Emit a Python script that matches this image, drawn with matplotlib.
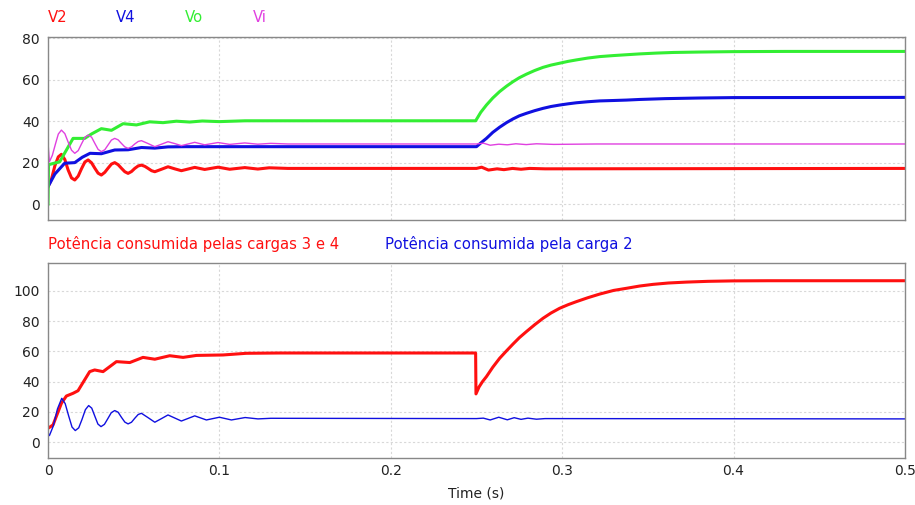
import numpy as np
import matplotlib.pyplot as plt

# ---- top panel: voltages ----
t_v2 = [0, 0.0020, 0.0040, 0.0060, 0.0078, 0.0098, 0.0117, 0.0137, 0.0156, 0.0176,
        0.0195, 0.0215, 0.0234, 0.0254, 0.0273, 0.0292, 0.0311, 0.0331, 0.0350,
        0.0370, 0.0389, 0.0409, 0.0428, 0.0448, 0.0467, 0.0487, 0.0506, 0.0526,
        0.0545, 0.0565, 0.0584, 0.0604, 0.0623, 0.0662, 0.0700, 0.0739, 0.0778,
        0.0817, 0.0856, 0.0914, 0.0992, 0.1060, 0.1148, 0.1224, 0.1290, 0.1400,
        0.2500, 0.2530, 0.2570, 0.2620, 0.2660, 0.2710, 0.2760, 0.2810, 0.2900, 0.5]
v2 = [8.4, 12.0, 18.5, 22.8, 24.0, 21.5, 16.5, 12.6, 11.6, 13.5,
      17.0, 20.3, 21.3, 19.9, 17.3, 14.9, 14.0, 15.3, 17.3,
      19.3, 20.0, 19.0, 17.3, 15.6, 14.8, 15.7, 17.2, 18.4,
      18.8, 18.2, 17.2, 16.1, 15.6, 16.8, 18.0, 17.0, 16.1,
      16.9, 17.7, 16.7, 17.8, 16.8, 17.6, 16.9, 17.5, 17.2,
      17.2, 17.8, 16.4, 17.0, 16.6, 17.2, 16.8, 17.2, 17.0, 17.2]

t_v4 = [0, 0.0040, 0.0097, 0.0156, 0.0200, 0.0245, 0.0311, 0.0389, 0.0467, 0.0545,
        0.0623, 0.0700, 0.0800, 0.2500, 0.2525, 0.2558, 0.2595, 0.2635, 0.2675,
        0.2713, 0.2750, 0.2791, 0.2840, 0.2888, 0.2935, 0.2985, 0.3035, 0.3083,
        0.3150, 0.3219, 0.3300, 0.3375, 0.3452, 0.3600, 0.3800, 0.4000, 0.5]
v4 = [8.4, 14.5, 19.7, 20.0, 22.6, 24.5, 24.3, 26.1, 26.2, 27.3,
      27.0, 27.6, 27.7, 27.7, 29.5, 31.7, 34.6, 37.1, 39.3,
      41.1, 42.6, 43.8, 45.1, 46.2, 47.1, 47.8, 48.4, 48.9,
      49.4, 49.8, 50.0, 50.2, 50.5, 50.9, 51.2, 51.4, 51.5]

t_vo = [0, 0.0003, 0.0068, 0.0146, 0.0214, 0.0253, 0.0311, 0.0370, 0.0438, 0.0516,
        0.0593, 0.0671, 0.0749, 0.0827, 0.0900, 0.1000, 0.1150, 0.2495, 0.2525,
        0.2558, 0.2595, 0.2635, 0.2675, 0.2713, 0.2750, 0.2791, 0.2840, 0.2888,
        0.2935, 0.2985, 0.3035, 0.3083, 0.3150, 0.3219, 0.3300, 0.3375, 0.3452,
        0.3550, 0.3650, 0.3800, 0.4000, 0.4300, 0.5]
vo = [0, 19.0, 20.4, 31.7, 31.7, 33.8, 36.4, 35.6, 38.8, 38.2,
      39.7, 39.3, 40.0, 39.6, 40.1, 39.8, 40.2, 40.2, 44.3,
      47.8, 51.2, 54.3, 56.9, 59.1, 61.0, 62.7, 64.5, 66.0,
      67.1, 68.0, 68.9, 69.6, 70.5, 71.2, 71.7, 72.1, 72.5,
      72.9, 73.2, 73.4, 73.6, 73.7, 73.7]

t_vi = [0, 0.0008, 0.0025, 0.0045, 0.0060, 0.0078, 0.0098, 0.0117, 0.0137, 0.0156,
        0.0176, 0.0195, 0.0215, 0.0234, 0.0254, 0.0273, 0.0292, 0.0311, 0.0331,
        0.0350, 0.0370, 0.0389, 0.0409, 0.0428, 0.0448, 0.0467, 0.0487, 0.0506,
        0.0526, 0.0545, 0.0584, 0.0623, 0.0662, 0.0700, 0.0739, 0.0778, 0.0817,
        0.0856, 0.0914, 0.0992, 0.1060, 0.1148, 0.1224, 0.1300, 0.1400, 0.2500,
        0.2540, 0.2580, 0.2630, 0.2680, 0.2730, 0.2790, 0.2850, 0.2950, 0.3200, 0.5]
vi = [29.3, 20.4, 23.5, 29.5, 33.8, 35.7, 34.0, 30.0, 26.0, 24.5,
      25.8, 29.0, 32.2, 33.3, 32.3, 29.3, 26.4, 25.3, 26.2,
      28.5, 30.9, 31.7, 31.0, 29.3, 27.6, 26.9, 27.6, 29.0,
      30.2, 30.6, 29.2, 27.7, 28.9, 30.1, 29.2, 28.2, 29.0,
      29.8, 28.6, 29.7, 28.8, 29.5, 28.9, 29.3, 29.0, 29.0,
      29.4, 28.4, 28.9, 28.6, 29.1, 28.7, 29.1, 28.8, 29.0, 29.0]

# ---- bottom panel: power ----
t_p34 = [0, 0.0029, 0.0078, 0.0107, 0.0146, 0.0175, 0.0210, 0.0243, 0.0272, 0.0321,
         0.0399, 0.0477, 0.0554, 0.0623, 0.0710, 0.0788, 0.0866, 0.1021, 0.1157,
         0.1351, 0.2495, 0.2497, 0.2515, 0.2535, 0.2558, 0.2595, 0.2635, 0.2675,
         0.2713, 0.2750, 0.2791, 0.2840, 0.2888, 0.2935, 0.2985, 0.3035, 0.3083,
         0.3150, 0.3219, 0.3300, 0.3375, 0.3452, 0.3530, 0.3620, 0.3725, 0.3850,
         0.4000, 0.4200, 0.5]
p34 = [9.2, 11.4, 25.7, 30.5, 32.3, 34.0, 40.5, 46.6, 47.7, 46.6,
       53.2, 52.6, 56.0, 54.8, 57.1, 56.0, 57.3, 57.6, 58.7,
       58.9, 58.9, 31.9, 36.5, 40.0, 43.3, 49.5, 55.4, 60.3,
       64.8, 69.0, 73.0, 77.6, 81.8, 85.3, 88.4, 90.8, 92.8,
       95.4, 97.8, 100.2, 101.6, 103.1, 104.2, 105.1, 105.7, 106.2,
       106.5, 106.6, 106.6]

t_p2 = [0, 0.0008, 0.0030, 0.0055, 0.0080, 0.0100, 0.0120, 0.0140, 0.0159, 0.0179,
        0.0198, 0.0218, 0.0237, 0.0255, 0.0273, 0.0291, 0.0309, 0.0329, 0.0349,
        0.0369, 0.0389, 0.0409, 0.0428, 0.0448, 0.0467, 0.0487, 0.0506, 0.0526,
        0.0545, 0.0584, 0.0623, 0.0662, 0.0700, 0.0739, 0.0778, 0.0817, 0.0856,
        0.0924, 0.1000, 0.1070, 0.1150, 0.1225, 0.1300, 0.2500, 0.2540, 0.2580,
        0.2630, 0.2680, 0.2720, 0.2760, 0.2800, 0.2850, 0.2900, 0.5]
p2 = [6.0, 4.4, 10.5, 22.0, 29.0, 25.5, 17.5, 10.0, 7.7, 9.5,
      15.0, 21.5, 24.2, 22.5, 17.2, 12.0, 10.3, 11.8, 15.6,
      19.5, 20.9, 19.8, 16.5, 13.3, 12.1, 13.2, 15.8, 18.3,
      19.1, 16.2, 13.2, 15.6, 18.0, 16.0, 14.0, 15.7, 17.4,
      14.7, 16.5, 14.7, 16.3, 15.4, 15.8, 15.6, 15.9, 14.7,
      16.5, 14.8, 16.2, 15.1, 15.9, 15.2, 15.6, 15.4]

x_ticks = [0, 0.1, 0.2, 0.3, 0.4, 0.5]
x_labels = ["0", "0.1", "0.2", "0.3", "0.4", "0.5"]
top_ticks = [0, 20, 40, 60, 80]
bot_ticks = [0, 20, 40, 60, 80, 100]

RED = "#ff1010"
BLUE = "#1010e0"
GREEN = "#33ee33"
MAGENTA = "#e040e0"


def style_axes(ax, yticks, ylim):
    ax.set_xlim(0, 0.5)
    ax.set_ylim(*ylim)
    ax.set_xticks(x_ticks)
    ax.set_yticks(yticks)
    ax.grid(True, color="#d8d8d8", linestyle=(0, (2, 2)), linewidth=0.8)
    ax.tick_params(length=0, labelsize=10, colors="#222222", pad=6)
    for s in ax.spines.values():
        s.set_color("#888888")
        s.set_linewidth(1.0)


def main():
    fig = plt.figure(figsize=(9.15, 5.05), dpi=100)
    ax1 = fig.add_axes([0.0525, 0.5644, 0.9365, 0.3633])
    ax2 = fig.add_axes([0.0525, 0.0925, 0.9365, 0.3861])

    ax1.plot(t_v2, v2, color=RED, lw=2.2, solid_joinstyle="round")
    ax1.plot(t_v4, v4, color=BLUE, lw=2.2, solid_joinstyle="round")
    ax1.plot(t_vo, vo, color=GREEN, lw=2.2, solid_joinstyle="round")
    ax1.plot(t_vi, vi, color=MAGENTA, lw=1.0)
    style_axes(ax1, top_ticks, (-7.7, 80.9))
    ax1.tick_params(labelbottom=False)

    ax2.plot(t_p34, p34, color=RED, lw=2.2, solid_joinstyle="round")
    ax2.plot(t_p2, p2, color=BLUE, lw=1.0)
    style_axes(ax2, bot_ticks, (-10.6, 118.1))
    ax2.tick_params(axis="x", pad=4)
    ax2.set_xticklabels(x_labels)
    ax2.set_xlabel("Time (s)", fontsize=10, color="#222222", labelpad=6)

    # series labels above each panel
    for i, (name, c) in enumerate([("V2", RED), ("V4", BLUE), ("Vo", GREEN), ("Vi", MAGENTA)]):
        fig.text((48 + 68.3 * i) / 915, 1 - 17 / 505, name, color=c,
                 fontsize=10.7, va="center", ha="left")
    fig.text(48 / 915, 1 - 244 / 505, "Potência consumida pelas cargas 3 e 4",
             color=RED, fontsize=10.7, va="center", ha="left")
    fig.text(385 / 915, 1 - 244 / 505, "Potência consumida pela carga 2",
             color=BLUE, fontsize=10.7, va="center", ha="left")

    fig.savefig("out.png", dpi=100)


if __name__ == "__main__":
    main()
